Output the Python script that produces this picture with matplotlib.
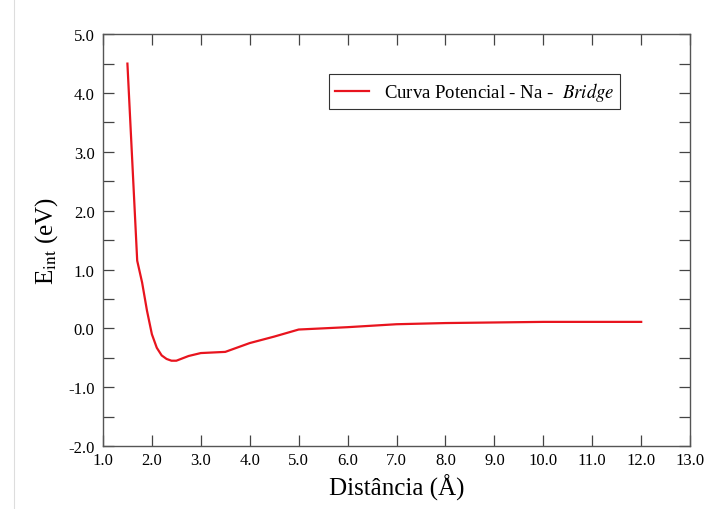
import numpy as np
import matplotlib.pyplot as plt
from matplotlib.ticker import MultipleLocator, FormatStrFormatter
from matplotlib.lines import Line2D

# curva de energia potencial - Na na posicao bridge
distancia = [1.5, 1.7, 1.8, 1.9, 2.0, 2.1, 2.2, 2.3, 2.4, 2.5, 2.75, 3.0, 3.5,
             4.0, 4.5, 5.0, 6.0, 7.0, 8.0, 9.0, 10.0, 11.0, 12.0]
energia = [4.5, 1.15, 0.78, 0.30, -0.10, -0.33, -0.46, -0.52, -0.55, -0.55, -0.47, -0.42, -0.40,
           -0.25, -0.14, -0.02, 0.02, 0.07, 0.09, 0.10, 0.11, 0.11, 0.11]

plt.rcParams['font.family'] = ['Liberation Serif', 'DejaVu Serif']
plt.rcParams['mathtext.fontset'] = 'stix'

fig = plt.figure(figsize=(7.1, 5.1), dpi=100)
ax = fig.add_axes([0.145, 0.1235, 0.827, 0.8075])

ax.plot(distancia, energia, color='#e8141e', lw=1.6,
        label=r'Curva Potencial - Na -  $\it{Bridge}$')

ax.set_xlim(1.0, 13.0)
ax.set_ylim(-2.0, 5.0)
ax.xaxis.set_major_locator(MultipleLocator(1.0))
ax.yaxis.set_major_locator(MultipleLocator(1.0))
ax.yaxis.set_minor_locator(MultipleLocator(0.5))
ax.xaxis.set_major_formatter(FormatStrFormatter('%.1f'))
ax.yaxis.set_major_formatter(FormatStrFormatter('%.1f'))
ax.tick_params(which='both', direction='in', top=True, right=True,
               length=8, width=0.9, color='#444444', labelsize=12)
ax.tick_params(axis='x', pad=4)
ax.tick_params(axis='y', pad=6)

for s in ax.spines.values():
    s.set_color('#555555')
    s.set_linewidth(1.0)

ax.set_xlabel('Distância (Å)', fontsize=18, labelpad=4)
ax.set_ylabel(r'E$_{\rm int}$ (eV)', fontsize=18, labelpad=6)

leg = ax.legend(loc='upper right', bbox_to_anchor=(0.896, 0.925), fontsize=13.5,
                fancybox=False, framealpha=1, edgecolor='#333333',
                handlelength=1.8, borderpad=0.3)
leg.get_frame().set_linewidth(0.8)

# linha fraca da digitalizacao na margem esquerda
fig.add_artist(Line2D([0.02, 0.02], [0.0, 1.0], color='#dddddd', lw=0.8))

fig.savefig('out.png', dpi=100)
